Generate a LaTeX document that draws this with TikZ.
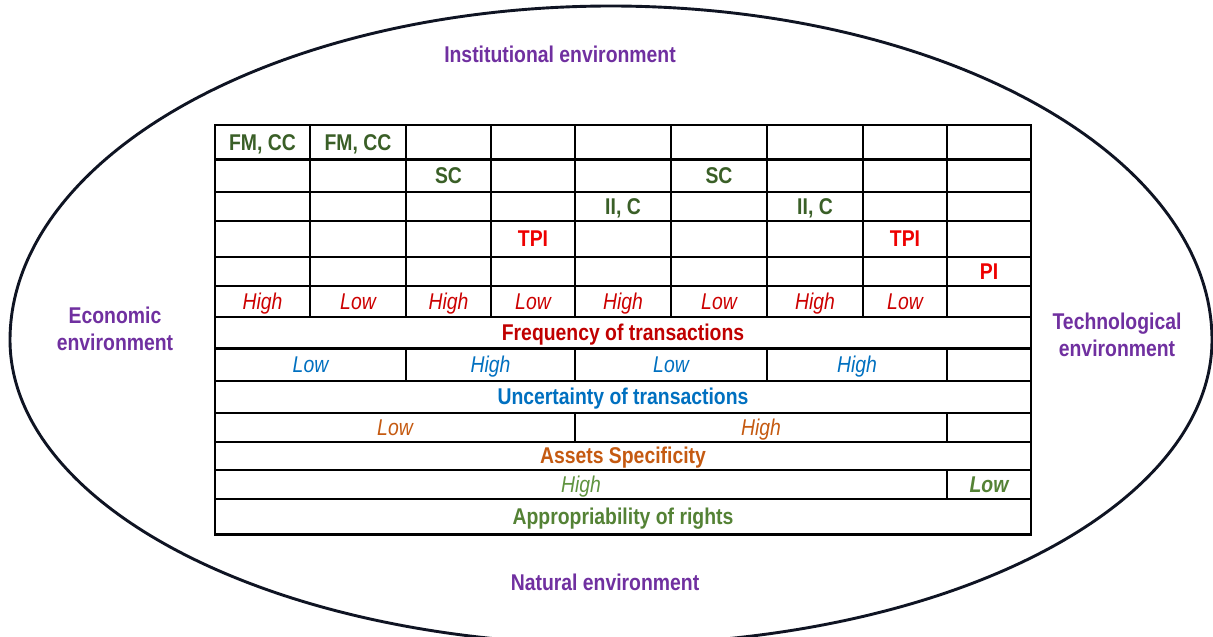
\documentclass[tikz,border=0pt]{standalone}
\usepackage{fontspec}
\setmainfont{Liberation Sans}[FakeStretch=0.85]
\definecolor{envpurple}{HTML}{7030A0}
\definecolor{govgreen}{HTML}{3A5F27}
\definecolor{govred}{HTML}{EE0000}
\definecolor{freqred}{HTML}{C00000}
\definecolor{lvlred}{HTML}{CC0000}
\definecolor{uncblue}{HTML}{0070C0}
\definecolor{assetorange}{HTML}{C55A11}
\definecolor{rightgreen}{HTML}{548235}
\definecolor{rightgreenlt}{HTML}{609440}
\definecolor{rim}{HTML}{0F1423}
\tikzset{
  lbl/.style={inner sep=0pt, text height=16.1pt, text depth=0pt,
              font=\fontsize{22.8}{27}\selectfont},
  gov/.style={lbl, font=\fontsize{22.8}{27}\selectfont\bfseries},
  lvl/.style={lbl, font=\fontsize{22.8}{27}\selectfont\itshape},
  head/.style={lbl, font=\fontsize{22.8}{27}\selectfont\bfseries},
  env/.style={inner sep=0pt, align=center, text=envpurple,
              font=\fontsize{22.8}{26.7}\selectfont\bfseries},
  grid/.style={line width=2.4pt, black, line cap=rect},
  rimline/.style={line width=2.9pt, rim, line join=round}
}
\begin{document}
\begin{tikzpicture}[x=1pt, y=-1pt]
\clip (0,0) rectangle (1213,637);
\fill[white] (0,0) rectangle (1213,637);

% surrounding environment outline (flatter lower half)
\draw[rimline] plot[domain=0:360, samples=361, variable=\t]
  ({611+601*cos(\t)}, {340+sin(\t)*(sin(\t)>0 ? 304.5 : 334)}) -- cycle;

% environment labels (base = baseline of the last line)
\node[env] (inst) at (560,54) {Institutional environment};
\node[env] (nat)  at (605,582.5) {Natural environment};
\node[env, anchor=base] (eco) at (115,350) {Economic\\environment};
\node[env, anchor=base] (tech) at (1117,356) {Technological\\environment};

% table: horizontal rules
\foreach \y in {125,159.3,191.7,221,256.7,285.7,316.7,348.3,380.7,412.7,441.7,470,499,534.3}
  \draw[grid] (215,\y) -- (1031,\y);
% outer sides
\draw[grid] (215,125) -- (215,534.3);
\draw[grid] (1031,125) -- (1031,534.3);
% nine governance columns
\foreach \x in {310,406,491,575,671,767,863,947}
  \draw[grid] (\x,125) -- (\x,316.7);
% uncertainty levels
\foreach \x in {406,575,767,947}
  \draw[grid] (\x,348.3) -- (\x,380.7);
% asset specificity levels
\foreach \x in {575,947}
  \draw[grid] (\x,412.7) -- (\x,441.7);
% appropriability levels
\draw[grid] (947,470) -- (947,499);

% governance structures
\node[gov, text=govgreen] (fm1) at (262.5,142.2) {FM, CC};
\node[gov, text=govgreen] (fm2) at (358,142.2) {FM, CC};
\node[gov, text=govgreen] (sc1) at (448.5,175.5) {SC};
\node[gov, text=govgreen] (sc2) at (719,175.5) {SC};
\node[gov, text=govgreen] (ii1) at (623,206.4) {II, C};
\node[gov, text=govgreen] (ii2) at (815,206.4) {II, C};
\node[gov, text=govred] (tpi1) at (533,238.9) {TPI};
\node[gov, text=govred] (tpi2) at (905,238.9) {TPI};
\node[gov, text=govred] (pi) at (989,271.2) {PI};

% frequency levels
\node[lvl, text=lvlred] (f1) at (262.5,301.2) {High};
\node[lvl, text=lvlred] (f2) at (358,301.2) {Low};
\node[lvl, text=lvlred] (f3) at (448.5,301.2) {High};
\node[lvl, text=lvlred] (f4) at (533,301.2) {Low};
\node[lvl, text=lvlred] (f5) at (623,301.2) {High};
\node[lvl, text=lvlred] (f6) at (719,301.2) {Low};
\node[lvl, text=lvlred] (f7) at (815,301.2) {High};
\node[lvl, text=lvlred] (f8) at (905,301.2) {Low};
\node[head, text=freqred] (freq) at (623,332.5) {Frequency of transactions};

% uncertainty levels
\node[lvl, text=uncblue] (u1) at (310.5,364.5) {Low};
\node[lvl, text=uncblue] (u2) at (490.5,364.5) {High};
\node[lvl, text=uncblue] (u3) at (671,364.5) {Low};
\node[lvl, text=uncblue] (u4) at (857,364.5) {High};
\node[head, text=uncblue] (unc) at (623,396.7) {Uncertainty of transactions};

% asset specificity levels
\node[lvl, text=assetorange] (a1) at (395,427.2) {Low};
\node[lvl, text=assetorange] (a2) at (761,427.2) {High};
\node[head, text=assetorange] (asset) at (623,455.9) {Assets Specificity};

% appropriability levels
\node[lvl, text=rightgreenlt] (r1) at (581,484.5) {High};
\node[lvl, text=rightgreen, font=\fontsize{22.8}{27}\selectfont\bfseries\itshape] (r2) at (989,484.5) {Low};
\node[head, text=rightgreen] (appr) at (623,516.7) {Appropriability of rights};
\end{tikzpicture}
\end{document}
